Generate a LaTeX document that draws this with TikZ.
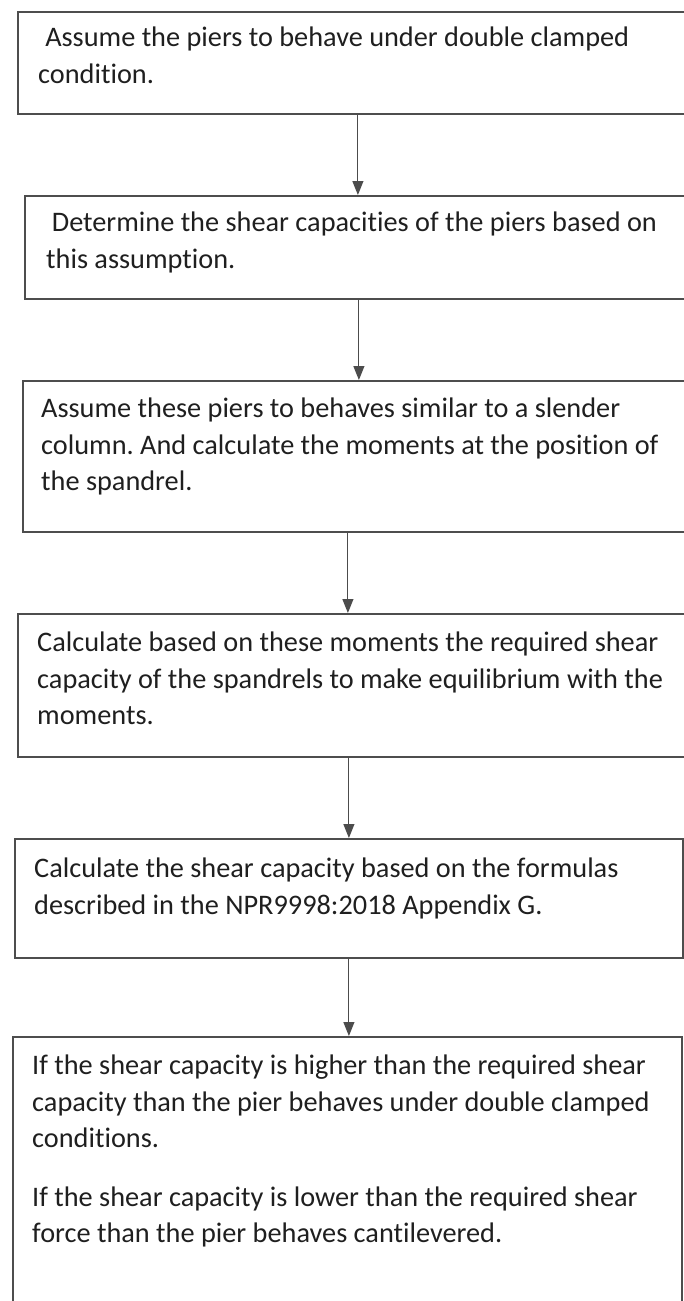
\documentclass[tikz,border=0pt]{standalone}
\usepackage{fontspec}
\setmainfont{Carlito}[RawFeature=-liga]
\usetikzlibrary{arrows.meta,positioning,calc}
\definecolor{frame}{HTML}{4D4D4D}
\definecolor{ink}{HTML}{1F1F1F}
\frenchspacing

\begin{document}
\begin{tikzpicture}[x=1pt,y=-1pt,font=\fontsize{28.3}{36.5}\selectfont,
  stepbox/.style={draw=frame,line width=1.8pt,anchor=north west,inner sep=0pt},
  steptext/.style={anchor=north west,align=left,inner sep=0pt,text=ink},
  flow/.style={draw=black!70,line width=1.1pt,-{Triangle[length=14pt,width=11pt]}}]
\useasboundingbox (0,0) rectangle (684,1301);
% boxes, right and lower edges run off the page
\node[stepbox,minimum width=690pt,minimum height=102pt] (s1) at (17,11) {};
\node[stepbox,minimum width=680pt,minimum height=103pt] (s2) at (24,195) {};
\node[stepbox,minimum width=680pt,minimum height=151pt] (s3) at (22,380) {};
\node[stepbox,minimum width=680pt,minimum height=143pt] (s4) at (17,613) {};
\node[stepbox,minimum width=668pt,minimum height=119pt] (s5) at (14,838) {};
\node[stepbox,minimum width=669pt,minimum height=320pt] (s6) at (12,1036) {};
\node[steptext] (t1) at (38,27) {\hspace*{0.25em}Assume the piers to behave under double clamped\\condition.};
\node[steptext] (t2) at (46,212) {\hspace*{0.2em}Determine the shear capacities of the piers based on\\this assumption.};
\node[steptext] (t3) at (41,398) {Assume these piers to behaves similar to a slender\\column. And calculate the moments at the position of\\the spandrel.};
\node[steptext] (t4) at (37,632) {Calculate based on these moments the required shear\\capacity of the spandrels to make equilibrium with the\\moments.};
\node[steptext] (t5) at (34,858) {Calculate the shear capacity based on the formulas\\described in the NPR9998:2018 Appendix G.};
\node[steptext] (t6) at (32,1055) {If the shear capacity is higher than the required shear\\capacity than the pier behaves under double clamped\\conditions.\\[22pt]If the shear capacity is lower than the required shear\\force than the pier behaves cantilevered.};
\foreach \a/\b/\dx in {s1/s2/-5,s2/s3/-6,s3/s4/-15,s4/s5/-9,s5/s6/0}
  \draw[flow] ([xshift=\dx pt]\a.south) -- ([xshift=\dx pt]\a.south |- \b.north);
\end{tikzpicture}
\end{document}
